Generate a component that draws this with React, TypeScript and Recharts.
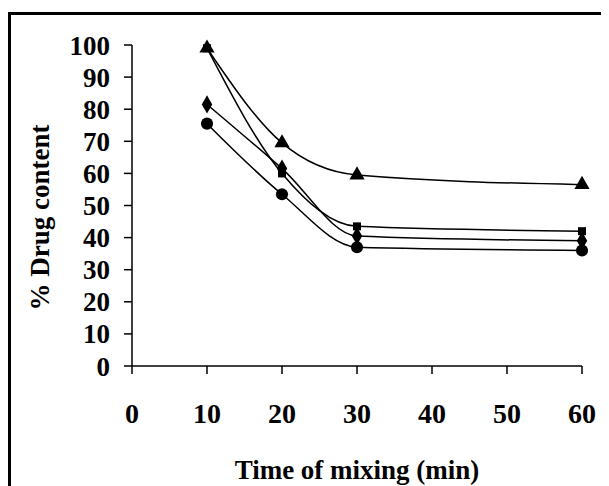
import React from 'react'
import { LineChart, Line, XAxis, YAxis, Symbols } from 'recharts'

const times = [10, 20, 30, 60]
const triangleSeries = [99, 69.5, 59.5, 56.5]
const squareSeries = [99, 60, 43.5, 42]
const diamondSeries = [81.5, 61.5, 40.5, 39]
const circleSeries = [75.5, 53.5, 37, 36]

const xTicks = [0, 10, 20, 30, 40, 50, 60]
const yTicks = [0, 10, 20, 30, 40, 50, 60, 70, 80, 90, 100]

const data = times.map((t, i) => ({
  time: t,
  tri: triangleSeries[i],
  sq: squareSeries[i],
  dia: diamondSeries[i],
  circ: circleSeries[i],
}))

const FONT = '"Liberation Serif", "Times New Roman", serif'

const marker = (type: any, size: number) => (props: any) => (
  <Symbols
    key={`${type}-${props.index}`}
    cx={props.cx}
    cy={props.cy}
    type={type}
    size={size}
    fill="#000"
    stroke="none"
  />
)

const series = [
  { key: 'tri', type: 'triangle', size: 100 },
  { key: 'sq', type: 'square', size: 64 },
  { key: 'dia', type: 'diamond', size: 95 },
  { key: 'circ', type: 'circle', size: 115 },
]

export default function App() {
  return (
    <div style={{ position: 'relative', width: 601, height: 478, overflow: 'hidden', background: '#fff' }}>
      <div
        style={{
          position: 'absolute',
          left: 0,
          top: 4,
          width: 640,
          height: 520,
          borderTop: '3px solid #000',
          borderLeft: '3px solid #000',
          boxSizing: 'border-box',
        }}
      />
      <div style={{ position: 'absolute', left: 0, top: 0 }}>
        <LineChart width={601} height={478} data={data} margin={{ top: 37, right: 27, bottom: 0, left: 0 }}>
          <XAxis
            dataKey="time"
            type="number"
            domain={[0, 60]}
            ticks={xTicks}
            height={120}
            stroke="#000"
            strokeWidth={1.5}
            tickSize={8}
            tickMargin={29}
            tick={{ fill: '#000', fontSize: 28, fontWeight: 'bold', fontFamily: FONT }}
            tickLine={{ stroke: '#000', strokeWidth: 1.5 }}
            label={{
              content: (p: any) => {
                const vb = p.viewBox
                return (
                  <text
                    x={vb.x + vb.width / 2}
                    y={vb.y + 104}
                    textAnchor="middle"
                    dominantBaseline="central"
                    fontFamily={FONT}
                    fontWeight="bold"
                    fontSize={27}
                    fill="#000"
                  >
                    Time of mixing (min)
                  </text>
                )
              },
            }}
          />
          <YAxis
            type="number"
            domain={[0, 100]}
            ticks={yTicks}
            width={124}
            stroke="#000"
            strokeWidth={1.5}
            tickSize={8}
            tickMargin={14}
            interval={0}
            tick={{ fill: '#000', fontSize: 27, fontWeight: 'bold', fontFamily: FONT }}
            tickLine={{ stroke: '#000', strokeWidth: 1.5 }}
            label={{
              content: (p: any) => {
                const vb = p.viewBox
                const cx = 32
                const cy = vb.y + vb.height / 2 + 12
                return (
                  <text
                    x={cx}
                    y={cy}
                    transform={`rotate(-90 ${cx} ${cy})`}
                    textAnchor="middle"
                    dominantBaseline="central"
                    fontFamily={FONT}
                    fontWeight="bold"
                    fontSize={27}
                    fill="#000"
                  >
                    % Drug content
                  </text>
                )
              },
            }}
          />
          {series.map((s) => (
            <Line
              key={s.key}
              dataKey={s.key}
              type="monotone"
              stroke="#000"
              strokeWidth={1.5}
              dot={marker(s.type, s.size)}
              activeDot={false}
              isAnimationActive={false}
            />
          ))}
        </LineChart>
      </div>
    </div>
  )
}
